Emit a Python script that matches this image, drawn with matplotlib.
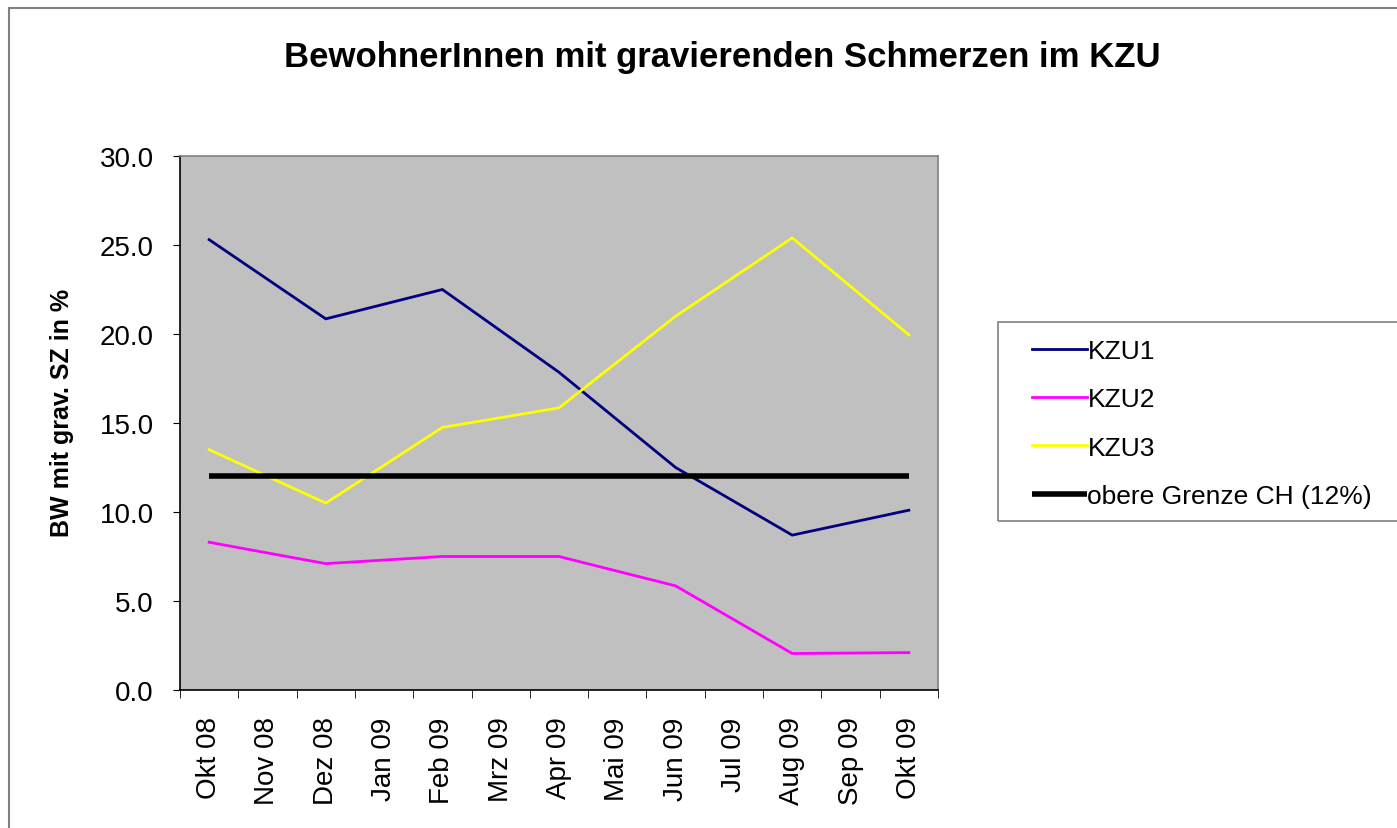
import matplotlib
matplotlib.use("Agg")
import matplotlib.pyplot as plt
from matplotlib.patches import Rectangle
import numpy as np

plt.rcParams['font.family'] = ['Liberation Sans', 'DejaVu Sans']

months = ["Okt 08", "Nov 08", "Dez 08", "Jan 09", "Feb 09", "Mrz 09", "Apr 09",
          "Mai 09", "Jun 09", "Jul 09", "Aug 09", "Sep 09", "Okt 09"]
# values only every second month
measured_idx = [0, 2, 4, 6, 8, 10, 12]
kzu1 = [25.3, 20.85, 22.5, 17.85, 12.5, 8.7, 10.1]
kzu2 = [8.3, 7.1, 7.5, 7.5, 5.85, 2.05, 2.1]
kzu3 = [13.5, 10.5, 14.75, 15.85, 21.0, 25.4, 19.95]
limit = 12.0

W, H = 1397, 829
fig = plt.figure(figsize=(W / 100, H / 100), dpi=100)
ax = fig.add_axes([180 / W, 1 - 691 / H, 758 / W, 534 / H])
ax.set_facecolor('#c0c0c0')

x = np.array(measured_idx)
l1, = ax.plot(x, kzu1, color='#000080', lw=2, label='KZU1')
l2, = ax.plot(x, kzu2, color='#ff00ff', lw=2, label='KZU2')
l3, = ax.plot(x, kzu3, color='#ffff00', lw=2, label='KZU3')
l4, = ax.plot([0, len(months) - 1], [limit, limit], color='black', lw=4,
              solid_capstyle='butt', label='obere Grenze CH (12%)')

ax.set_xlim(-0.5, len(months) - 0.5)
ax.set_ylim(0, 30)
yt = np.arange(0, 30.1, 5)
ax.set_yticks(yt)
ax.set_yticklabels([f"{v:.1f}" for v in yt], fontsize=20)
ax.set_xticks(range(len(months)))
ax.set_xticklabels(months, rotation=90, fontsize=20)
ax.set_xticks(np.arange(-0.5, len(months), 1), minor=True)
ax.tick_params(axis='x', which='major', length=0, pad=19)
ax.tick_params(axis='x', which='minor', length=6, color='black')
ax.tick_params(axis='y', length=5, color='black', pad=14)

for s in ['left', 'bottom']:
    ax.spines[s].set_color('black')
    ax.spines[s].set_linewidth(1.2)
for s in ['top', 'right']:
    ax.spines[s].set_color('#808080')
    ax.spines[s].set_linewidth(1.2)

fig.text(62 / W, 1 - 413 / H, 'BW mit grav. SZ in %', rotation=90,
         ha='center', va='center', fontsize=18, fontweight='bold')

fig.text(722 / W, 1 - 67 / H, 'BewohnerInnen mit gravierenden Schmerzen im KZU',
         ha='center', va='baseline', fontsize=25, fontweight='bold')

leg = fig.legend(handles=[l1, l2, l3, l4], loc='upper left',
                 bbox_to_anchor=(1032 / W, 1 - 340 / H),
                 fontsize=19, frameon=False, handlelength=2.1,
                 handletextpad=0.0, labelspacing=0.92, borderpad=0,
                 borderaxespad=0)

# legend frame
fig.patches.append(Rectangle((998 / W, 1 - 522 / H), 500 / W, 199 / H,
                             transform=fig.transFigure, fill=False,
                             edgecolor='#808080', lw=1.2))
# outer chart border
fig.patches.append(Rectangle((9 / W, -0.01), 1.1, 1 - 9 / H + 0.01,
                             transform=fig.transFigure, fill=False,
                             edgecolor='#808080', lw=1.5))

fig.savefig('out.png', dpi=100)
